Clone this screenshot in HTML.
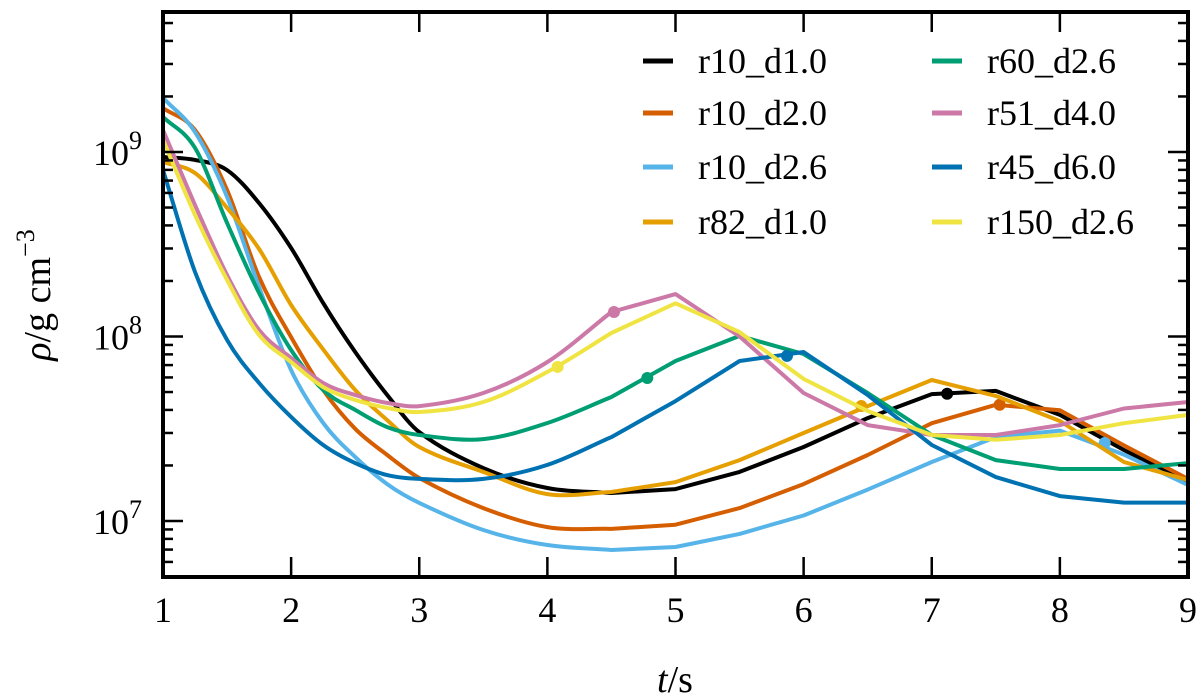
<!DOCTYPE html>
<html><head><meta charset="utf-8"><style>
html,body{margin:0;padding:0;background:#fff;}
svg{display:block;}
svg text{font-family:"Liberation Serif","DejaVu Serif",serif;}
</style></head><body>
<svg id="chart" width="1200" height="700" viewBox="0 0 1200 700" xmlns="http://www.w3.org/2000/svg">
<g id="series"></g>
<g id="axes"></g>
<g id="legend"></g>
</svg>
<script>
const times = [1,1.25,1.5,1.75,2,2.25,2.5,2.75,3,3.5,4,4.5,5,5.5,6,6.5,7,7.5,8,8.5,9];
const seriesNames = ["r10_d1.0","r10_d2.0","r10_d2.6","r82_d1.0","r60_d2.6","r51_d4.0","r45_d6.0","r150_d2.6"];
const seriesColors = ["#000000","#D55E00","#56B4E9","#E69F00","#009E73","#CC79A7","#0072B2","#F0E442"];
// log10(rho / g cm^-3)
const logRho_r10_d1_0 = [8.973,8.957,8.902,8.723,8.480,8.181,7.916,7.683,7.482,7.287,7.179,7.152,7.173,7.266,7.401,7.558,7.688,7.705,7.575,7.385,7.211];
const logRho_r10_d2_0 = [9.238,9.119,8.794,8.322,7.997,7.710,7.500,7.358,7.233,7.070,6.967,6.957,6.98,7.07,7.2,7.358,7.53,7.63,7.60,7.41,7.228];
const logRho_r10_d2_6 = [9.293,9.108,8.756,8.268,7.818,7.531,7.347,7.200,7.098,6.951,6.870,6.843,6.859,6.93,7.03,7.17,7.32,7.455,7.49,7.36,7.195];
const logRho_r82_d1_0 = [8.946,8.886,8.697,8.474,8.171,7.930,7.710,7.547,7.401,7.266,7.146,7.157,7.211,7.33,7.477,7.623,7.764,7.678,7.542,7.32,7.222];
const logRho_r60_d2_6 = [9.190,9.022,8.615,8.236,7.927,7.710,7.602,7.509,7.466,7.444,7.531,7.672,7.867,8.003,7.905,7.694,7.466,7.33,7.282,7.282,7.314];
const logRho_r51_d4_0 = [9.119,8.713,8.333,8.035,7.884,7.748,7.683,7.640,7.623,7.694,7.862,8.133,8.23,8.0,7.694,7.52,7.466,7.466,7.52,7.61,7.645];
const logRho_r45_d6_0 = [8.902,8.350,7.981,7.748,7.564,7.412,7.314,7.249,7.228,7.228,7.304,7.455,7.65,7.867,7.916,7.683,7.412,7.238,7.135,7.10,7.10];
const logRho_r150_d2_6 = [9.065,8.659,8.306,8.008,7.862,7.726,7.656,7.613,7.591,7.645,7.808,8.019,8.18,8.024,7.77,7.596,7.466,7.44,7.466,7.53,7.575];
const markerTimes = [7.12,7.53,8.35,6.45,4.78,4.52,5.87,4.08];
const markerLogRho = [7.69,7.63,7.423,7.623,7.775,8.133,7.895,7.835];
const xTicks = [1,2,3,4,5,6,7,8,9];
const yDecades = [7,8,9];

const allSeries = [logRho_r10_d1_0,logRho_r10_d2_0,logRho_r10_d2_6,logRho_r82_d1_0,logRho_r60_d2_6,logRho_r51_d4_0,logRho_r45_d6_0,logRho_r150_d2_6];
const L=163,R=1188,T=12,B=577;
const xMin=1,xMax=9, yMin=6.6965, yMax=9.7588;
const smoothUntil=4.5;
function xs(t){return L+(t-xMin)/(xMax-xMin)*(R-L);}
function ys(l){return B-(l-yMin)/(yMax-yMin)*(B-T);}
const NS="http://www.w3.org/2000/svg";
function mk(tag,attrs,parent){const e=document.createElementNS(NS,tag);for(const k in attrs)e.setAttribute(k,attrs[k]);parent.appendChild(e);return e;}

function buildPath(vals){
  const P=vals.map((v,j)=>[xs(times[j]),ys(v)]);
  const n=P.length;
  let last=0; while(last+1<n && times[last+1]<=smoothUntil) last++;
  const m=[];
  for(let j=0;j<=last;j++){
    const a=Math.max(j-1,0), b=Math.min(j+1,last);
    m[j]=(P[b][1]-P[a][1])/(P[b][0]-P[a][0]);
  }
  let d='M'+P[0][0].toFixed(1)+','+P[0][1].toFixed(1);
  for(let j=1;j<n;j++){
    if(j<=last){
      const p1=P[j-1],p2=P[j],h=(p2[0]-p1[0])/3;
      d+='C'+(p1[0]+h).toFixed(1)+','+(p1[1]+h*m[j-1]).toFixed(1)+' '+(p2[0]-h).toFixed(1)+','+(p2[1]-h*m[j]).toFixed(1)+' '+p2[0].toFixed(1)+','+p2[1].toFixed(1);
    } else {
      d+='L'+P[j][0].toFixed(1)+','+P[j][1].toFixed(1);
    }
  }
  return d;
}

const sg=document.getElementById('series');
allSeries.forEach((vals,i)=>{
  const p=mk('path',{d:buildPath(vals),fill:'none',stroke:seriesColors[i],'stroke-width':4,'stroke-linejoin':'round'},sg);
  
  
  const c=mk('circle',{cx:xs(markerTimes[i]),cy:ys(markerLogRho[i]),r:6,fill:seriesColors[i]},sg);
  
  
});

const ax=document.getElementById('axes');
const FF='Liberation Serif, DejaVu Serif, serif';
xTicks.forEach(t=>{
  const x=xs(t);
  mk('line',{x1:x,y1:B,x2:x,y2:B-20,stroke:'#000','stroke-width':2.5},ax);
  mk('line',{x1:x,y1:T,x2:x,y2:T+20,stroke:'#000','stroke-width':2.5},ax);
  const tx=mk('text',{x:x,y:622,'text-anchor':'middle','font-size':36,'font-family':FF},ax);
  tx.textContent=t;
  
  
});
for(let dec=6;dec<=9;dec++){
  for(let mm=1;mm<=9;mm++){
    const l=dec+Math.log10(mm);
    if(l<yMin||l>yMax)continue;
    const y=ys(l), len=(mm===1)?20:10;
    mk('line',{x1:L,y1:y,x2:L+len,y2:y,stroke:'#000','stroke-width':2.5},ax);
    mk('line',{x1:R,y1:y,x2:R-len,y2:y,stroke:'#000','stroke-width':2.5},ax);
  }
}
yDecades.forEach(dec=>{
  const y=ys(dec);
  const tx=mk('text',{x:142,y:y+13,'text-anchor':'end','font-size':36,'font-family':FF},ax);
  tx.innerHTML='10<tspan dy="-16" font-size="26">'+dec+'</tspan>';
  
  
});
const fr=mk('rect',{x:L,y:T,width:R-L,height:B-T,fill:'none',stroke:'#000','stroke-width':4},ax);


const xl=mk('text',{x:675,y:692,'text-anchor':'middle','font-size':38,'font-family':FF},ax);
xl.innerHTML='<tspan font-style="italic">t</tspan>/s';


const yl=mk('text',{x:0,y:0,'text-anchor':'middle','font-size':38,'font-family':FF,transform:'translate(50,295) rotate(-90)'},ax);
yl.innerHTML='<tspan font-style="italic">ρ</tspan>/g cm<tspan dy="-16" font-size="26">−3</tspan>';



const lg=document.getElementById('legend');
const rowsY=[61,113,167,222];
seriesNames.forEach((n,i)=>{
  const col=Math.floor(i/4), row=i%4;
  const x0=col?932:643, y=rowsY[row];
  const g=mk('g',{},lg);
  
  
  mk('line',{x1:x0,y1:y,x2:x0+30,y2:y,stroke:seriesColors[i],'stroke-width':5},g);
  const t=mk('text',{x:x0+55,y:y+12,'font-size':36,'font-family':FF},g);
  t.textContent=n;
});
</script>
</body></html>
